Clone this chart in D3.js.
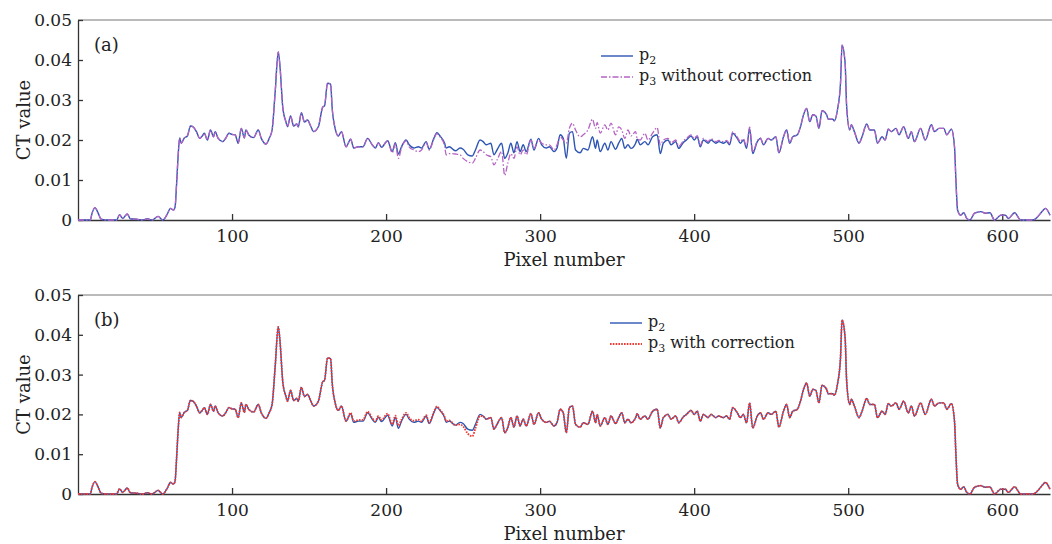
<!DOCTYPE html>
<html>
<head>
<meta charset="utf-8">
<script src="https://cdn.jsdelivr.net/npm/d3@7"></script>
<style>
  body { margin: 0; background: #fff; }
  svg { display: block; font-family: "DejaVu Serif", serif; }
</style>
</head>
<body>
<svg id="chart" width="1052" height="544"></svg>
<script>
// pixel positions, with the CT values at each one
const pixels = [
  0, 8, 9, 11, 13, 15, 18, 25, 27, 29,
  32, 34, 38, 42, 45, 48, 52, 55, 58, 60,
  62, 63, 64, 65, 66, 67, 69, 71, 73, 75,
  77, 79, 81, 82, 84, 86, 88, 89, 91, 94,
  96, 98, 100, 102, 104, 106, 108, 109, 111, 114,
  117, 119, 122, 124, 126, 128, 130, 131, 133, 135,
  136, 138, 140, 142, 143, 145, 147, 149, 151, 153,
  156, 159, 160, 162, 164, 165, 167, 169, 171, 174,
  177, 179, 182, 185, 188, 191, 193, 195, 197, 201,
  204, 206, 208, 210, 213, 215, 218, 221, 223, 226,
  228, 231, 233, 235, 238, 239, 241, 245, 248, 250,
  253, 256, 258, 261, 263, 265, 268, 270, 272, 275,
  277, 279, 281, 283, 285, 287, 289, 291, 294, 296,
  299, 301, 304, 306, 309, 311, 313, 315, 317, 319,
  321, 323, 326, 328, 331, 334, 336, 337, 339, 342,
  344, 346, 349, 351, 353, 355, 357, 359, 362, 363,
  365, 368, 370, 373, 376, 378, 380, 383, 385, 388,
  390, 393, 395, 398, 400, 402, 404, 406, 409, 411,
  414, 416, 419, 421, 423, 425, 428, 430, 432, 434,
  436, 438, 441, 443, 445, 448, 450, 453, 455, 458,
  460, 462, 464, 467, 469, 471, 473, 475, 477, 479,
  481, 483, 486, 487, 490, 491, 493, 495, 496, 498,
  499, 501, 502, 504, 507, 509, 512, 514, 517, 519,
  522, 524, 526, 528, 531, 533, 536, 539, 541, 543,
  547, 550, 554, 556, 559, 562, 564, 567, 569, 570,
  571, 573, 575, 577, 579, 582, 586, 589, 592, 595,
  599, 602, 604, 608, 612, 616, 620, 623, 626, 628,
  631
]

const p2 = [
  0, 0, 0.0015, 0.0031, 0.0018, 0.0002, 0, 0, 0.0013, 0.0004,
  0.0015, 0.0003, 0.0002, 0, 0.0003, 0, 0.0009, 0, 0.0015, 0.0029,
  0.0025, 0.0032, 0.009, 0.016, 0.0205, 0.0192, 0.0205, 0.021, 0.0235, 0.0232,
  0.022, 0.0204, 0.0212, 0.0217, 0.02, 0.0225, 0.0208, 0.0221, 0.0204, 0.0196,
  0.0205, 0.0217, 0.0214, 0.0213, 0.0192, 0.0229, 0.0205, 0.0225, 0.0212, 0.0206,
  0.0225, 0.0204, 0.019, 0.0203, 0.0225, 0.032, 0.042, 0.039, 0.0279, 0.0245,
  0.0233, 0.026, 0.0235, 0.024, 0.0233, 0.0268, 0.0245, 0.025, 0.0235, 0.0221,
  0.0233, 0.0283, 0.0285, 0.0342, 0.034, 0.028, 0.0228, 0.021, 0.0221, 0.0183,
  0.0202, 0.018, 0.0183, 0.0183, 0.0204, 0.0188, 0.018, 0.0193, 0.0182, 0.0198,
  0.0171, 0.0193, 0.0165, 0.0183, 0.02, 0.0188, 0.018, 0.0183, 0.018, 0.0196,
  0.0177, 0.0204, 0.0218, 0.021, 0.0192, 0.018, 0.0183, 0.0173, 0.018, 0.0177,
  0.0163, 0.016, 0.0175, 0.02, 0.0196, 0.0188, 0.0192, 0.0163, 0.0175, 0.0192,
  0.0154, 0.0167, 0.0192, 0.0168, 0.0196, 0.0171, 0.0188, 0.0171, 0.0202, 0.0175,
  0.0204, 0.0188, 0.018, 0.0183, 0.0171, 0.018, 0.0213, 0.0204, 0.0154, 0.0217,
  0.0221, 0.0175, 0.0168, 0.0179, 0.0175, 0.0208, 0.0179, 0.02, 0.0171, 0.0192,
  0.0175, 0.0196, 0.0177, 0.0192, 0.0204, 0.0179, 0.0188, 0.0179, 0.0192, 0.0202,
  0.0188, 0.0196, 0.0188, 0.0208, 0.0213, 0.0166, 0.0192, 0.02, 0.0188, 0.0196,
  0.0179, 0.0194, 0.02, 0.021, 0.02, 0.0208, 0.0183, 0.02, 0.0192, 0.02,
  0.0192, 0.0196, 0.0192, 0.0196, 0.0188, 0.0217, 0.0204, 0.0192, 0.02, 0.0179,
  0.0229, 0.0166, 0.0196, 0.0204, 0.0188, 0.0204, 0.02, 0.0208, 0.0168, 0.0208,
  0.0225, 0.0192, 0.0208, 0.0213, 0.0233, 0.0263, 0.0279, 0.0246, 0.0263, 0.026,
  0.0229, 0.0273, 0.0263, 0.0252, 0.0252, 0.0248, 0.0275, 0.0342, 0.0437, 0.0392,
  0.0283, 0.0225, 0.0238, 0.0221, 0.0192, 0.0208, 0.024, 0.0225, 0.0225, 0.0192,
  0.0208, 0.02, 0.0227, 0.0221, 0.0229, 0.0213, 0.0233, 0.0204, 0.0221, 0.0196,
  0.0229, 0.02, 0.0238, 0.0221, 0.0229, 0.0229, 0.0213, 0.0227, 0.0183, 0.0092,
  0.0025, 0.0012, 0.0018, 0.0004, 0, 0.0017, 0.0021, 0.0017, 0.0018, 0,
  0.0012, 0.0012, 0.0004, 0.0018, 0, 0, 0, 0.0008, 0.0022, 0.0029,
  0.0012
]

const p3Uncorrected = [
  0, 0, 0.0015, 0.0031, 0.0018, 0.0002, 0, 0, 0.0013, 0.0004,
  0.0015, 0.0003, 0.0002, 0, 0.0003, 0, 0.0009, 0, 0.0015, 0.0029,
  0.0025, 0.0032, 0.009, 0.016, 0.0205, 0.0192, 0.0205, 0.021, 0.0235, 0.0232,
  0.022, 0.0204, 0.0212, 0.0217, 0.02, 0.0225, 0.0208, 0.0221, 0.0204, 0.0196,
  0.0205, 0.0217, 0.0214, 0.0213, 0.0192, 0.0229, 0.0205, 0.0225, 0.0212, 0.0206,
  0.0225, 0.0204, 0.019, 0.0203, 0.0225, 0.032, 0.042, 0.039, 0.0279, 0.0245,
  0.0233, 0.026, 0.0235, 0.024, 0.0233, 0.0268, 0.0245, 0.025, 0.0235, 0.0221,
  0.0233, 0.0283, 0.0285, 0.0342, 0.034, 0.028, 0.0228, 0.021, 0.0221, 0.0183,
  0.0202, 0.018, 0.0183, 0.0183, 0.0204, 0.0188, 0.018, 0.0193, 0.0182, 0.0198,
  0.0168, 0.019, 0.0154, 0.018, 0.0198, 0.0183, 0.0175, 0.0171, 0.0175, 0.0194,
  0.0175, 0.0202, 0.0216, 0.0208, 0.0185, 0.0163, 0.0166, 0.0165, 0.0163, 0.0154,
  0.0146, 0.0142, 0.0154, 0.0175, 0.0171, 0.0163, 0.0158, 0.0138, 0.015, 0.0171,
  0.0112, 0.0142, 0.0166, 0.0154, 0.0183, 0.0163, 0.0175, 0.0163, 0.02, 0.0179,
  0.02, 0.0192, 0.0188, 0.0188, 0.0175, 0.0188, 0.0208, 0.02, 0.0192, 0.0229,
  0.0242, 0.0225, 0.0208, 0.0213, 0.0225, 0.0252, 0.0229, 0.0244, 0.0217, 0.0238,
  0.0225, 0.0242, 0.0213, 0.0233, 0.0225, 0.0204, 0.0225, 0.021, 0.0221, 0.0204,
  0.02, 0.0217, 0.02, 0.0217, 0.0231, 0.0188, 0.02, 0.0204, 0.0193, 0.02,
  0.0184, 0.0198, 0.0204, 0.0213, 0.0204, 0.0211, 0.0187, 0.0204, 0.0196, 0.0203,
  0.0196, 0.0199, 0.0196, 0.0199, 0.0192, 0.022, 0.0207, 0.0196, 0.0203, 0.0183,
  0.0232, 0.017, 0.0198, 0.0205, 0.0189, 0.0204, 0.02, 0.0208, 0.0168, 0.0208,
  0.0225, 0.0192, 0.0208, 0.0213, 0.0233, 0.0263, 0.0279, 0.0246, 0.0263, 0.026,
  0.0229, 0.0273, 0.0263, 0.0252, 0.0252, 0.0248, 0.0275, 0.0342, 0.0437, 0.0392,
  0.0283, 0.0225, 0.0238, 0.0221, 0.0192, 0.0208, 0.024, 0.0225, 0.0225, 0.0192,
  0.0208, 0.02, 0.0227, 0.0221, 0.0229, 0.0213, 0.0233, 0.0204, 0.0221, 0.0196,
  0.0229, 0.02, 0.0238, 0.0221, 0.0229, 0.0229, 0.0213, 0.0227, 0.0183, 0.0092,
  0.0025, 0.0012, 0.0018, 0.0004, 0, 0.0017, 0.0021, 0.0017, 0.0018, 0,
  0.0012, 0.0012, 0.0004, 0.0018, 0, 0, 0, 0.0008, 0.0022, 0.0029,
  0.0012
]

const p3Corrected = [
  0, 0, 0.0015, 0.0031, 0.0018, 0.0002, 0, 0, 0.0013, 0.0004,
  0.0015, 0.0003, 0.0002, 0, 0.0003, 0, 0.0009, 0, 0.0015, 0.0029,
  0.0025, 0.0032, 0.009, 0.016, 0.0205, 0.0192, 0.0205, 0.021, 0.0235, 0.0232,
  0.022, 0.0204, 0.0212, 0.0217, 0.02, 0.0225, 0.0208, 0.0221, 0.0204, 0.0196,
  0.0205, 0.0217, 0.0214, 0.0213, 0.0192, 0.0229, 0.0205, 0.0225, 0.0212, 0.0206,
  0.0225, 0.0204, 0.019, 0.0203, 0.0225, 0.032, 0.042, 0.039, 0.0279, 0.0245,
  0.0233, 0.026, 0.0235, 0.024, 0.0233, 0.0268, 0.0245, 0.025, 0.0235, 0.0221,
  0.0233, 0.0283, 0.0285, 0.0342, 0.034, 0.028, 0.0228, 0.021, 0.0221, 0.0183,
  0.0204, 0.0183, 0.0186, 0.0186, 0.0207, 0.0191, 0.0183, 0.0196, 0.0186, 0.0202,
  0.0175, 0.0197, 0.0172, 0.0187, 0.0204, 0.0192, 0.0184, 0.0187, 0.0183, 0.0198,
  0.0179, 0.0206, 0.022, 0.0211, 0.0194, 0.0183, 0.0185, 0.0173, 0.0175, 0.017,
  0.0152, 0.0145, 0.0165, 0.0196, 0.0195, 0.0188, 0.0192, 0.0163, 0.0175, 0.0192,
  0.0154, 0.0167, 0.0192, 0.0168, 0.0196, 0.0171, 0.0188, 0.0171, 0.0202, 0.0175,
  0.0204, 0.0188, 0.018, 0.0183, 0.0171, 0.018, 0.0213, 0.0204, 0.0154, 0.0217,
  0.0221, 0.0175, 0.0168, 0.0179, 0.0175, 0.0208, 0.0179, 0.02, 0.0171, 0.0192,
  0.0175, 0.0196, 0.0177, 0.0192, 0.0204, 0.0179, 0.0188, 0.0179, 0.0192, 0.0202,
  0.0188, 0.0196, 0.0188, 0.0208, 0.0213, 0.0166, 0.0192, 0.02, 0.0188, 0.0196,
  0.0179, 0.0194, 0.02, 0.021, 0.02, 0.0208, 0.0183, 0.02, 0.0192, 0.02,
  0.0192, 0.0196, 0.0192, 0.0196, 0.0188, 0.0217, 0.0204, 0.0192, 0.02, 0.0179,
  0.0229, 0.0166, 0.0196, 0.0204, 0.0188, 0.0204, 0.02, 0.0208, 0.0168, 0.0208,
  0.0225, 0.0192, 0.0208, 0.0213, 0.0233, 0.0263, 0.0279, 0.0246, 0.0263, 0.026,
  0.0229, 0.0273, 0.0263, 0.0252, 0.0252, 0.0248, 0.0275, 0.0342, 0.0437, 0.0392,
  0.0283, 0.0225, 0.0238, 0.0221, 0.0192, 0.0208, 0.024, 0.0225, 0.0225, 0.0192,
  0.0208, 0.02, 0.0227, 0.0221, 0.0229, 0.0213, 0.0233, 0.0204, 0.0221, 0.0196,
  0.0229, 0.02, 0.0238, 0.0221, 0.0229, 0.0229, 0.0213, 0.0227, 0.0183, 0.0092,
  0.0025, 0.0012, 0.0018, 0.0004, 0, 0.0017, 0.0021, 0.0017, 0.0018, 0,
  0.0012, 0.0012, 0.0004, 0.0018, 0, 0, 0, 0.0008, 0.0022, 0.0029,
  0.0012
]

const xTicks = [100, 200, 300, 400, 500, 600]
const yTicks = [0, 0.01, 0.02, 0.03, 0.04, 0.05]

const svg = d3.select("#chart")
const left = 78, right = 1050

const x = d3.scaleLinear().domain([0, 631]).range([left, right])

const panels = [
  { top: 20, bottom: 220, tag: "(a)", p3: p3Uncorrected, color: "#b564c4",
    dash: "6,2,1.5,2", width: 1.3, note: " without correction", legendX: 601, legendY: 56 },
  { top: 295, bottom: 494, tag: "(b)", p3: p3Corrected, color: "#ee3a33",
    dash: "1.6,1.2", width: 1.8, note: " with correction", legendX: 610, legendY: 323 }
]

panels.forEach(function (p, i) {
  const y = d3.scaleLinear().domain([0, 0.05]).range([p.bottom, p.top])
  const g = svg.append("g")

  svg.append("clipPath").attr("id", "clip" + i)
    .append("rect").attr("x", left).attr("y", p.top)
    .attr("width", right - left + 2).attr("height", p.bottom - p.top + 1)

  // top frame
  g.append("line")
    .attr("x1", left).attr("x2", 1052).attr("y1", p.top).attr("y2", p.top)
    .attr("stroke", "#777").attr("stroke-width", 1)

  const xAxis = g.append("g")
    .attr("transform", "translate(0," + p.bottom + ")")
    .call(d3.axisBottom(x).tickValues(xTicks).tickSize(-6).tickSizeOuter(0).tickPadding(10))
  const yAxis = g.append("g")
    .attr("transform", "translate(" + left + ",0)")
    .call(d3.axisLeft(y).tickValues(yTicks).tickSize(-5).tickSizeOuter(0).tickPadding(6)
      .tickFormat(d => d === 0 ? "0" : d.toFixed(2)))

  ;[xAxis, yAxis].forEach(function (a) {
    a.select(".domain").attr("stroke", "#333").attr("stroke-width", 1.3)
    a.selectAll(".tick line").attr("stroke", "#333").attr("stroke-width", 1.3)
    a.selectAll(".tick text").attr("fill", "#222").style("font-size", "17px")
      .style("font-family", "DejaVu Serif, serif")
  })

  const line = d3.line()
    .x((d, k) => x(pixels[k]))
    .y(d => y(d))
    .curve(d3.curveMonotoneX)

  const lines = g.append("g").attr("clip-path", "url(#clip" + i + ")")
  lines.append("path").datum(p2)
    .attr("d", line).attr("fill", "none")
    .attr("stroke", "#2d55b3").attr("stroke-width", 1.4)
  lines.append("path").datum(p.p3)
    .attr("d", line).attr("fill", "none")
    .attr("stroke", p.color).attr("stroke-width", p.width)
    .attr("stroke-dasharray", p.dash)

  g.append("text").attr("x", 94).attr("y", p.top + 31)
    .style("font-size", "18px").attr("fill", "#222").text(p.tag)

  g.append("text")
    .attr("transform", "translate(24," + (p.top + p.bottom) / 2 + ") rotate(-90)")
    .attr("text-anchor", "middle").attr("dy", "0.35em")
    .style("font-size", "18px").attr("fill", "#222").text("CT value")

  g.append("text").attr("x", (left + right) / 2).attr("y", p.bottom + 46)
    .attr("text-anchor", "middle")
    .style("font-size", "18px").attr("fill", "#222").text("Pixel number")

  // legend
  const items = [
    { sub: "2", note: "", color: "#2d55b3", dash: null, w: 1.4 },
    { sub: "3", note: p.note, color: p.color, dash: p.dash, w: p.width }
  ]
  const lg = g.append("g")
  items.forEach(function (it, k) {
    const ly = p.legendY + k * 21
    lg.append("line")
      .attr("x1", p.legendX).attr("x2", p.legendX + 32)
      .attr("y1", ly).attr("y2", ly)
      .attr("stroke", it.color).attr("stroke-width", it.w)
      .attr("stroke-dasharray", it.dash)
    const t = lg.append("text").attr("x", p.legendX + 38).attr("y", ly + 4)
      .style("font-size", "16px").attr("fill", "#222")
    t.append("tspan").text("p")
    t.append("tspan").attr("dy", 4).style("font-size", "11px").text(it.sub)
    t.append("tspan").attr("dy", -4).text(it.note)
  })
})
</script>
</body>
</html>
